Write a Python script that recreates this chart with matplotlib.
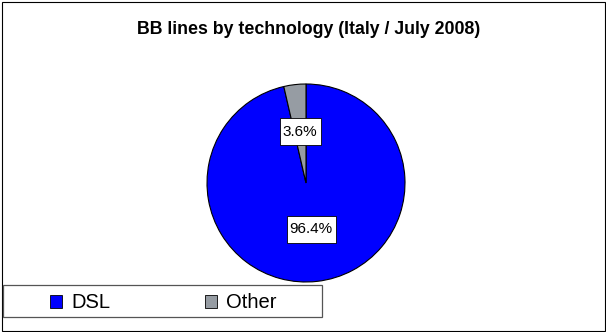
import numpy as np
import matplotlib.pyplot as plt
from matplotlib.patches import Rectangle, Patch

plt.rcParams["font.family"] = ["Liberation Sans", "DejaVu Sans"]

title = "BB lines by technology (Italy / July 2008)"
labels = ["DSL", "Other"]
shares = [96.4, 3.6]
colors = ["#0000FF", "#969CA3"]
pct_dist = [0.47, 0.52]

fig = plt.figure(figsize=(6.06, 3.32), dpi=100)
W, H = 606, 332

# outer chart border
fig.patches.append(Rectangle((1.5 / W, 1.5 / H), (W - 3) / W, (H - 3) / H,
                             transform=fig.transFigure, fill=False,
                             edgecolor="black", lw=0.8))

fig.text(309 / W, 1 - 34.5 / H, title, ha="center", va="baseline",
         fontsize=12.8, fontweight="bold")

cx, cy, r = 306, 332 - 183, 99
ax = fig.add_axes([(cx - r) / W, (cy - r) / H, 2 * r / W, 2 * r / H])
wedges, _ = ax.pie(shares, colors=colors, startangle=90, counterclock=False,
                   wedgeprops=dict(edgecolor="black", linewidth=0.8))
ax.set_xlim(-1, 1)
ax.set_ylim(-1, 1)
ax.set_aspect("equal")
ax.axis("off")

# data labels in white boxes (taller than the text, like Excel)
renderer = fig.canvas.get_renderer()
px = 1.0 / r  # one pixel in data units
for w, val, d in zip(wedges, shares, pct_dist):
    ang = np.deg2rad((w.theta1 + w.theta2) / 2)
    x, y = d * np.cos(ang), d * np.sin(ang)
    t = ax.text(x, y, f"{val:.1f}%", ha="center", va="center",
                fontsize=11, zorder=5)
    bw = t.get_window_extent(renderer).width + 6
    bh = 27
    ax.add_patch(Rectangle((x - bw / 2 * px, y - bh / 2 * px), bw * px, bh * px,
                           facecolor="white", edgecolor="black", lw=0.6,
                           zorder=4))

# legend frame
fig.patches.append(Rectangle((3 / W, 1 - 317 / H), 319 / W, 32 / H,
                             transform=fig.transFigure, fill=False,
                             edgecolor="#555555", lw=0.9))

handles = [Patch(facecolor=c, edgecolor="black", lw=0.6) for c in colors]
leg = fig.legend(handles, labels, ncol=2, loc="center left",
                 bbox_to_anchor=(50 / W, 1 - 303 / H),
                 fontsize=14.5, frameon=False,
                 handlelength=0.6, handleheight=0.6, handletextpad=0.45,
                 columnspacing=4.7, borderaxespad=0, borderpad=0)

fig.savefig("out.png", dpi=100)
